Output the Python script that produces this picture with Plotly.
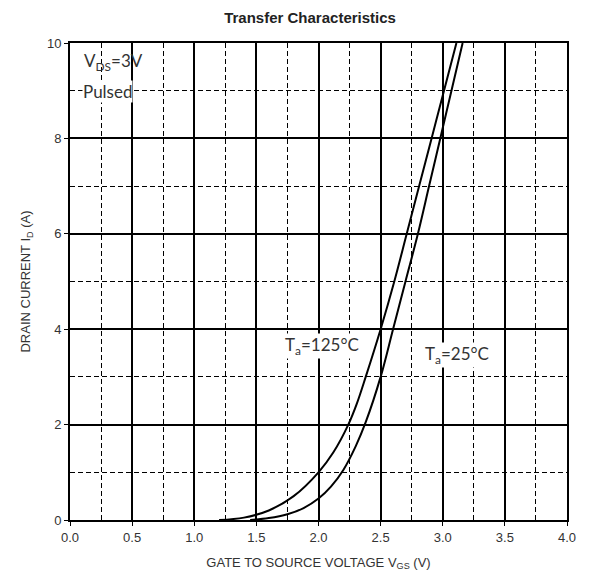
import plotly.graph_objects as go

# Data
vgs_125 = [1.2, 1.4, 1.6, 1.8, 2.0, 2.12, 2.24, 2.31, 2.38, 2.5, 2.61, 2.71, 2.81, 2.91, 3.01, 3.11]
id_125 = [0.0, 0.05, 0.2, 0.5, 1.0, 1.42, 2.0, 2.45, 3.0, 4.0, 5.0, 6.0, 7.0, 8.0, 9.0, 10.0]

vgs_25 = [1.45, 1.6, 1.75, 1.88, 2.0, 2.1, 2.2, 2.3, 2.38, 2.5, 2.6, 2.7, 2.8, 2.89, 2.98, 3.07, 3.16]
id_25 = [0.0, 0.04, 0.12, 0.25, 0.45, 0.7, 1.05, 1.55, 2.05, 3.0, 4.0, 5.0, 6.0, 7.0, 8.0, 9.0, 10.0]

x_ticks = [0.0, 0.5, 1.0, 1.5, 2.0, 2.5, 3.0, 3.5, 4.0]
y_ticks = [0, 2, 4, 6, 8, 10]

fig = go.Figure()
for xs, ys, name in [(vgs_125, id_125, "Ta=125°C"), (vgs_25, id_25, "Ta=25°C")]:
    fig.add_trace(go.Scatter(x=xs, y=ys, mode="lines", name=name,
                             line=dict(color="black", width=2, shape="spline", smoothing=1.0),
                             showlegend=False, hoverinfo="skip"))

axis_common = dict(
    showline=True, linecolor="black", linewidth=2, mirror=True,
    showgrid=True, gridcolor="black", gridwidth=1.5,
    ticks="outside", ticklen=4, tickcolor="black", tickwidth=1,
    tickfont=dict(family="Liberation Sans, Arial", size=13, color="#333"),
    zeroline=False, automargin=False,
)

fig.update_xaxes(range=[0, 4], tickvals=x_ticks, ticktext=[f"{v:.1f}" for v in x_ticks],
                 minor=dict(dtick=0.25, tick0=0, showgrid=True, gridcolor="black",
                            gridwidth=1.2, griddash="5px,3px"),
                 title=dict(text="GATE TO SOURCE VOLTAGE V<sub>GS</sub> (V)",
                            font=dict(family="Liberation Sans, Arial", size=13, color="#333"),
                            standoff=14),
                 **axis_common)
fig.update_yaxes(range=[0, 10], tickvals=y_ticks,
                 minor=dict(dtick=1, tick0=0, showgrid=True, gridcolor="black",
                            gridwidth=1.2, griddash="5px,3px"),
                 title=dict(text="DRAIN CURRENT I<sub>D</sub> (A)",
                            font=dict(family="Liberation Sans, Arial", size=13, color="#333"),
                            standoff=13),
                 **axis_common)

ann_font = dict(family="Lato, Open Sans", size=17, color="#333")
fig.add_annotation(x=0.1, y=9.6, xref="x", yref="y", text="V<sub>DS</sub>=3V",
                   showarrow=False, xanchor="left", font=ann_font)
fig.add_annotation(x=0.1, y=8.98, xref="x", yref="y", text="Pulsed",
                   showarrow=False, xanchor="left", font=ann_font, bgcolor="white", borderpad=0)
fig.add_annotation(x=2.33, y=3.65, xref="x", yref="y", text="T<sub>a</sub>=125°C",
                   showarrow=False, xanchor="right", font=ann_font, bgcolor="white", borderpad=0)
fig.add_annotation(x=2.85, y=3.45, xref="x", yref="y", text="T<sub>a</sub>=25°C",
                   showarrow=False, xanchor="left", font=ann_font, bgcolor="white", borderpad=0)

# The page adds an 8px body margin, so the figure is sized to fit inside the window
fig.update_layout(
    width=582, height=577,
    margin=dict(l=62, r=23, t=35, b=65),
    paper_bgcolor="white", plot_bgcolor="white",
    title=dict(text="<b>Transfer Characteristics</b>", x=0.519, xanchor="center",
               y=0.9835, yanchor="middle",
               font=dict(family="Liberation Sans, Arial", size=15, color="#222")),
)

fig.write_html("out.html")
